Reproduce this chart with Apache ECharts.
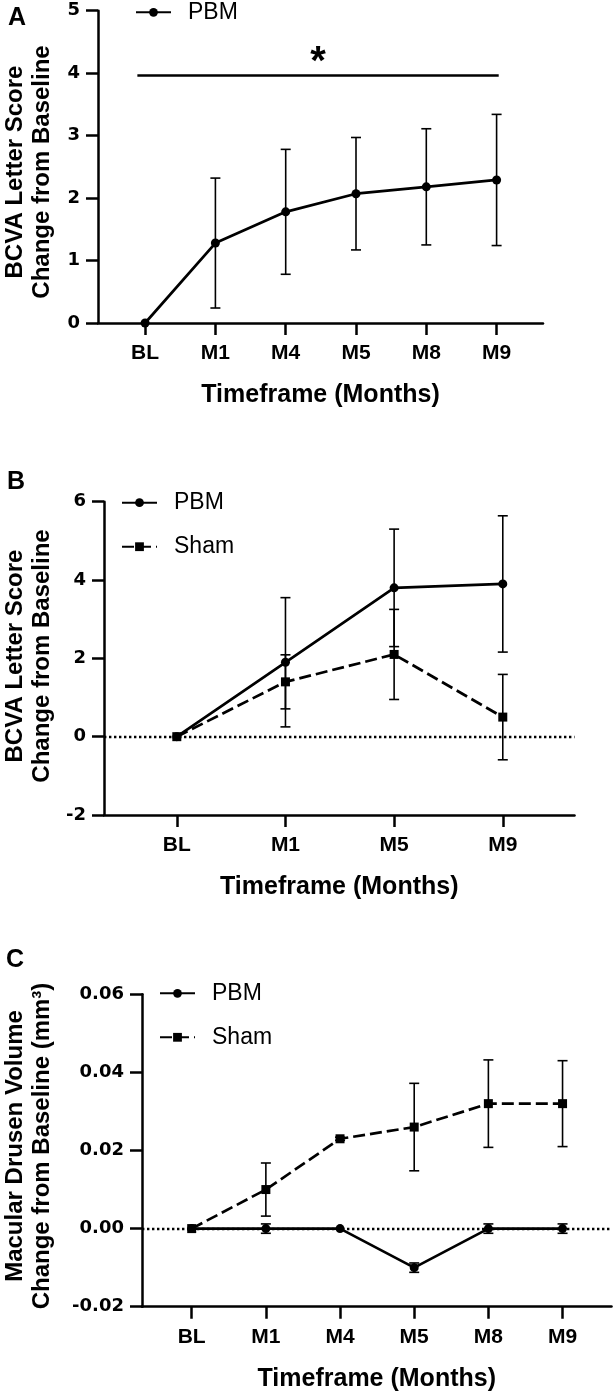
<!DOCTYPE html>
<html>
<head>
<meta charset="utf-8">
<script src="https://cdn.jsdelivr.net/npm/echarts@6/dist/echarts.min.js"></script>
<style>
  html, body { margin: 0; padding: 0; background: #fff; }
  #chart { width: 613px; height: 1392px; }
</style>
</head>
<body>
<div id="chart"></div>
<script>
  // panel A - BCVA, PBM only
  var catsA = ['BL', 'M1', 'M4', 'M5', 'M8', 'M9']
  var pbmA = [0, 1.28, 1.78, 2.07, 2.18, 2.29]
  var pbmAErr = [0, 1.04, 1.0, 0.9, 0.93, 1.05]
  var sigA = {from: -0.11, to: 5.03, y: 3.97, text: '*'}

  // panel B - BCVA, PBM vs Sham
  var catsB = ['BL', 'M1', 'M5', 'M9']
  var pbmB = [0, 1.9, 3.8, 3.9]
  var pbmBErr = [0, 1.65, 1.5, 1.74]
  var shamB = [0, 1.4, 2.1, 0.5]
  var shamBErr = [0, 0.69, 1.15, 1.09]

  // panel C - drusen volume
  var catsC = ['BL', 'M1', 'M4', 'M5', 'M8', 'M9']
  var pbmC = [0, 0, 0, -0.010, 0, 0]
  var pbmCErr = [0, 0.0012, 0, 0.0012, 0.0012, 0.0012]
  var shamC = [0, 0.010, 0.023, 0.026, 0.032, 0.032]
  var shamCErr = [0, 0.0068, 0.0004, 0.0112, 0.0112, 0.011]

  var FONT = '"Liberation Sans", Arial, sans-serif'
  var TICKFONT = '"DejaVu Sans", sans-serif'

  function lineSeries (name, vals, idx, dashed) {
    return {
      name: name,
      type: 'line',
      xAxisIndex: idx,
      yAxisIndex: idx,
      data: vals.map(function (v, i) { return [i, v] }),
      symbol: dashed ? 'rect' : 'circle',
      symbolSize: 9,
      lineStyle: {color: '#000', width: 2.7, type: dashed ? [12, 5] : 'solid'},
      itemStyle: {color: '#000'},
      z: 3
    }
  }

  function errSeries (vals, errs, idx) {
    return {
      type: 'custom',
      xAxisIndex: idx,
      yAxisIndex: idx,
      silent: true,
      z: 2,
      data: vals.map(function (v, i) { return [i, v, errs[i]] }),
      renderItem: function (params, api) {
        var x = api.value(0)
        var y = api.value(1)
        var e = api.value(2)
        if (!e) return null
        var top = api.coord([x, y + e])
        var bot = api.coord([x, y - e])
        var w = 5
        var st = {stroke: '#000', lineWidth: 1.6}
        return {
          type: 'group',
          children: [
            {type: 'line', shape: {x1: top[0], y1: top[1], x2: bot[0], y2: bot[1]}, style: st},
            {type: 'line', shape: {x1: top[0] - w, y1: top[1], x2: top[0] + w, y2: top[1]}, style: st},
            {type: 'line', shape: {x1: bot[0] - w, y1: bot[1], x2: bot[0] + w, y2: bot[1]}, style: st}
          ]
        }
      }
    }
  }

  function xAxisFor (cats, idx) {
    var idxs = cats.map(function (c, i) { return i })
    return {
      type: 'value',
      gridIndex: idx,
      min: -0.67,
      max: cats.length - 1 + 0.66,
      name: 'Timeframe (Months)',
      nameLocation: 'middle',
      nameGap: 60,
      nameTextStyle: {color: '#000', fontFamily: FONT, fontWeight: 'bold', fontSize: 25},
      splitLine: {show: false},
      axisLine: {show: true, onZero: false, lineStyle: {color: '#000', width: 2.5}},
      axisTick: {show: true, customValues: idxs, length: 12, lineStyle: {color: '#000', width: 2.5}},
      axisLabel: {
        customValues: idxs,
        margin: 20,
        color: '#000',
        fontFamily: FONT,
        fontWeight: 'bold',
        fontSize: 21,
        formatter: function (v) { return cats[Math.round(v)] }
      }
    }
  }

  function yAxisFor (idx, min, max, interval, fmt) {
    return {
      type: 'value',
      gridIndex: idx,
      min: min,
      max: max,
      interval: interval,
      splitLine: {show: false},
      axisLine: {show: true, onZero: false, lineStyle: {color: '#000', width: 2.5}},
      axisTick: {show: true, length: 12, lineStyle: {color: '#000', width: 2.5}},
      axisLabel: {
        margin: 18,
        color: '#000',
        fontFamily: TICKFONT,
        fontWeight: 'bold',
        fontSize: 18,
        formatter: fmt
      }
    }
  }

  function legendFor (names, left, top) {
    return {
      data: names,
      orient: 'vertical',
      left: left,
      top: top,
      padding: 0,
      itemGap: 21,
      itemWidth: 35,
      itemHeight: 11,
      selectedMode: false,
      textStyle: {color: '#000', fontFamily: FONT, fontSize: 23, padding: [0, 0, 0, 12]}
    }
  }

  function titleText (txt, x, y) {
    return {
      type: 'text',
      x: x,
      y: y,
      rotation: Math.PI / 2,
      style: {
        text: txt,
        fill: '#000',
        font: 'bold 24px ' + FONT,
        lineHeight: 26.5,
        align: 'center',
        verticalAlign: 'middle'
      }
    }
  }

  function letter (txt, x, y) {
    return {
      type: 'text',
      x: x,
      y: y,
      style: {text: txt, fill: '#000', font: 'bold 25px ' + FONT, align: 'center', verticalAlign: 'middle'}
    }
  }

  var sigSeries = lineSeries('PBM', pbmA, 0, false)
  sigSeries.markLine = {
    silent: true,
    symbol: 'none',
    lineStyle: {color: '#000', width: 2.5, type: 'solid'},
    label: {
      show: true,
      position: 'middle',
      formatter: sigA.text,
      distance: -8,
      color: '#000',
      fontFamily: FONT,
      fontWeight: 'bold',
      fontSize: 40
    },
    data: [[{coord: [sigA.from, sigA.y]}, {coord: [sigA.to, sigA.y]}]]
  }

  function zeroLine (s) {
    s.markLine = {
      silent: true,
      symbol: 'none',
      label: {show: false},
      lineStyle: {color: '#000', width: 2.4, type: [2.4, 2.6]},
      data: [{yAxis: 0}]
    }
    return s
  }

  var option = {
    animation: false,
    backgroundColor: '#fff',
    textStyle: {fontFamily: FONT},
    grid: [
      {left: 98, right: 70, top: 10.7, bottom: 1069, containLabel: false, outerBoundsMode: 'none'},
      {left: 104, right: 38.5, top: 501.7, bottom: 577, containLabel: false, outerBoundsMode: 'none'},
      {left: 142, right: 1.5, top: 994.3, bottom: 85.3, containLabel: false, outerBoundsMode: 'none'}
    ],
    xAxis: [xAxisFor(catsA, 0), xAxisFor(catsB, 1), xAxisFor(catsC, 2)],
    yAxis: [
      yAxisFor(0, 0, 5, 1),
      yAxisFor(1, -2, 6, 2),
      yAxisFor(2, -0.02, 0.06, 0.02, function (v) { return v.toFixed(2) })
    ],
    legend: [
      legendFor(['PBM'], 135, 0.8),
      legendFor(['PBM', 'Sham'], 121, 491.2),
      legendFor(['PBM', 'Sham'], 159, 981.8)
    ],
    graphic: [
      letter('A', 17, 18.5),
      letter('B', 16, 482),
      letter('C', 15, 960),
      titleText('BCVA Letter Score\nChange from Baseline', 29, 172),
      titleText('BCVA Letter Score\nChange from Baseline', 29, 656),
      titleText('Macular Drusen Volume\nChange from Baseline (mm³)', 29, 1146)
    ],
    series: [
      errSeries(pbmA, pbmAErr, 0),
      sigSeries,
      errSeries(pbmB, pbmBErr, 1),
      errSeries(shamB, shamBErr, 1),
      zeroLine(lineSeries('PBM', pbmB, 1, false)),
      lineSeries('Sham', shamB, 1, true),
      errSeries(pbmC, pbmCErr, 2),
      errSeries(shamC, shamCErr, 2),
      zeroLine(lineSeries('PBM', pbmC, 2, false)),
      lineSeries('Sham', shamC, 2, true)
    ]
  }

  var chart = echarts.init(document.getElementById('chart'), null, {renderer: 'canvas'})
  chart.setOption(option)
</script>
</body>
</html>
